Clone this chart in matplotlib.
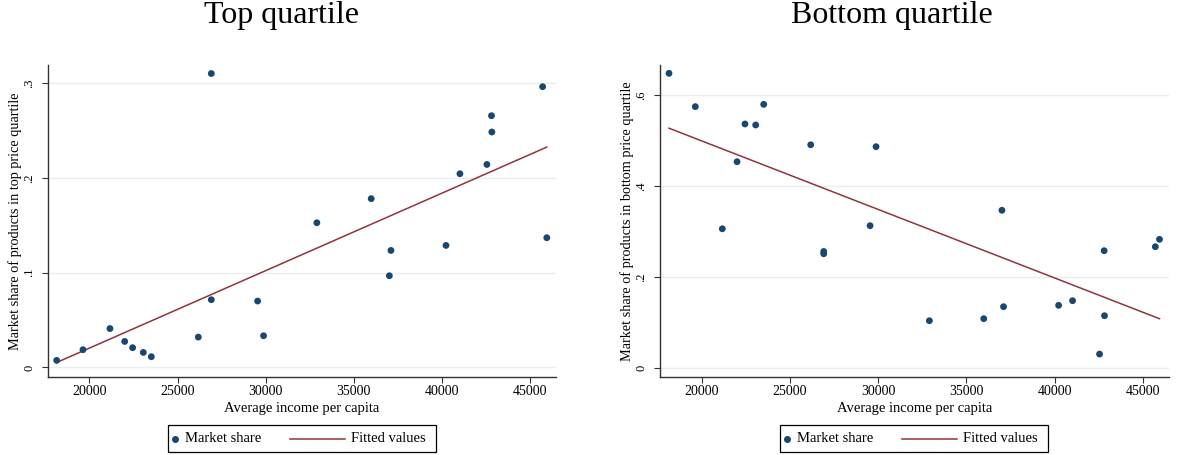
import numpy as np
import matplotlib.pyplot as plt
from matplotlib.patches import Rectangle
from matplotlib.lines import Line2D

plt.rcParams['font.family'] = ['Liberation Serif', 'DejaVu Serif']

# average income per capita for each region (shared by both panels)
income = [18150, 19640, 21170, 22005, 22455, 23060, 23515, 26178, 26915, 26915,
          29540, 29878, 32900, 35980, 37010, 37100, 40220, 41010, 42540, 42800,
          42820, 45700, 45935]

# market share of products in the top price quartile
share_top = [0.0074, 0.0187, 0.041, 0.0274, 0.0208, 0.0158, 0.0113, 0.032, 0.0714, 0.310,
             0.070, 0.0334, 0.1526, 0.178, 0.0967, 0.1234, 0.1287, 0.2043, 0.2141, 0.2655,
             0.2483, 0.2961, 0.1368]

# market share of products in the bottom price quartile
share_bottom = [0.6484, 0.575, 0.306, 0.4537, 0.5368, 0.5346, 0.580, 0.491, 0.251, 0.256,
                0.3128, 0.4868, 0.1035, 0.108, 0.3467, 0.1344, 0.1374, 0.1476, 0.030, 0.2577,
                0.1145, 0.2665, 0.2828]

top_ticks = [0, 0.1, 0.2, 0.3]
top_labels = ['0', '.1', '.2', '.3']
bottom_ticks = [0, 0.2, 0.4, 0.6]
bottom_labels = ['0', '.2', '.4', '.6']
x_ticks = [20000, 25000, 30000, 35000, 40000, 45000]

navy = '#1a476f'
maroon = '#90353b'
grid_c = '#e6eef0'

W, H = 1177, 455
fig = plt.figure(figsize=(W / 100, H / 100), dpi=100)


def fx(px):
    return px / W


def fy(py):
    return 1 - py / H


def legend_box(x0):
    # stata-style legend: dot + label, then line + label, in a plain black box
    fig.patches.append(Rectangle((fx(x0), fy(452)), fx(268), 27 / H, transform=fig.transFigure,
                                 facecolor='white', edgecolor='black', lw=0.9))
    fig.lines.append(Line2D([fx(x0 + 7)], [fy(438.5)], transform=fig.transFigure, marker='o',
                            markersize=4, color=navy, linestyle='none'))
    fig.text(fx(x0 + 17), fy(438.5), 'Market share', fontsize=10.5, va='center', ha='left')
    fig.lines.append(Line2D([fx(x0 + 122), fx(x0 + 177)], [fy(438.5), fy(438.5)],
                            transform=fig.transFigure, color=maroon, lw=1.1))
    fig.text(fx(x0 + 183), fy(438.5), 'Fitted values', fontsize=10.5, va='center', ha='left')


def panel(left_px, right_px, title_x, y, ylim, yticks, ylabels, ylab, title, leg_x):
    ax = fig.add_axes([fx(left_px), fy(376.7), (right_px - left_px) / W, (376.7 - 65) / H])
    x = np.array(income, dtype=float)
    yv = np.array(y)
    b, a = np.polyfit(x, yv, 1)
    xs = np.array([x.min(), x.max()])

    for t in yticks:
        ax.axhline(t, color=grid_c, lw=1.0, zorder=0)
    ax.scatter(x, yv, s=24, color=navy, edgecolors='none', zorder=3)
    ax.plot(xs, a + b * xs, color=maroon, lw=1.1, zorder=2)

    ax.set_xlim(17640, 46457)
    ax.set_ylim(*ylim)
    ax.set_xticks(x_ticks)
    ax.set_xticklabels([str(v) for v in x_ticks], fontsize=10)
    ax.set_yticks(yticks)
    ax.set_yticklabels(ylabels, fontsize=9, rotation=90, va='center')
    ax.tick_params(length=4, width=0.8, color='#333333')
    ax.tick_params(axis='x', pad=2)
    ax.tick_params(axis='y', pad=5)
    for s in ['top', 'right']:
        ax.spines[s].set_visible(False)
    for s in ['left', 'bottom']:
        ax.spines[s].set_color('#333333')
        ax.spines[s].set_linewidth(1.0)
    ax.set_xlabel('Average income per capita', fontsize=10.5, labelpad=3)
    ax.set_ylabel(ylab, fontsize=10.3, labelpad=1)

    fig.text(fx(title_x), fy(16), title, fontsize=23, ha='center', va='center')
    legend_box(leg_x)
    return ax


panel(47.7, 556, 281, share_top, (-0.0098, 0.319), top_ticks, top_labels,
      'Market share of products in top price quartile', 'Top quartile', 168)
panel(660, 1168.7, 892, share_bottom, (-0.0198, 0.6667), bottom_ticks, bottom_labels,
      'Market share of products in bottom price quartile', 'Bottom quartile', 780)

fig.savefig('out.png', dpi=100)
